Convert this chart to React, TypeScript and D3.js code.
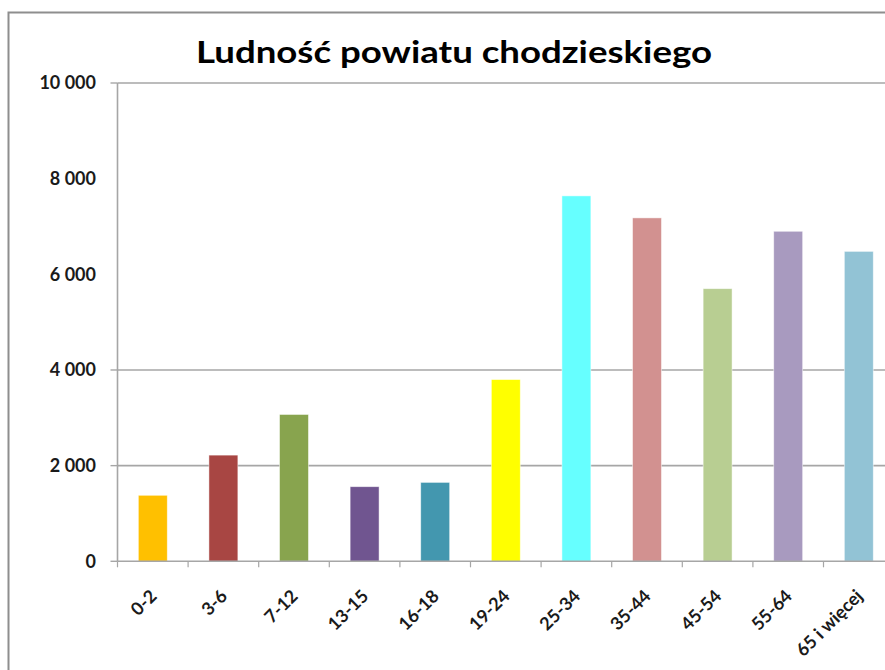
import React from "react";
import * as d3 from "d3";

const categories = ["0-2", "3-6", "7-12", "13-15", "16-18", "19-24", "25-34", "35-44", "45-54", "55-64", "65 i więcej"];
const values = [1380, 2220, 3070, 1560, 1650, 3800, 7640, 7180, 5700, 6900, 6480];
const barColors = ["#FFC000", "#A84643", "#88A44E", "#705590", "#4397AF", "#FFFF00", "#66FFFF", "#D29190", "#B8CE92", "#A89ABF", "#92C3D5"];
const yTicks = [0, 2000, 4000, 6000, 8000, 10000];
const gridTicks = [2000, 4000, 10000];
const tickMarkValues = [0, 2000, 4000, 10000];
const title = "Ludność powiatu chodzieskiego";

const W = 885;
const H = 670;
const left = 117.5;
const step = 70.6;
const top = 83;
const bottom = 561.3;

export default function App() {
  const x = d3
    .scaleBand<string>()
    .domain(categories)
    .range([left, left + step * categories.length])
    .paddingInner(0.59)
    .paddingOuter(0.295);
  const y = d3.scaleLinear().domain([0, 10000]).range([bottom, top]);
  const fmt = (v: number) => d3.format(",")(v).replace(/,/g, "\u00a0");
  const font = "Lato, 'Open Sans', sans-serif";
  const boundaries = d3.range(categories.length + 1).map((i) => left + i * step);

  return (
    <svg
      width={W}
      height={H}
      style={{ position: "absolute", left: 0, top: 0, background: "#fff" }}
    >
      <rect x={0} y={0} width={W} height={H} fill="#fff" />
      <rect x={8.5} y={12.5} width={W + 20} height={H + 20} fill="#fff" stroke="#8E8E8E" strokeWidth={2} />
      <text
        x={454}
        y={63}
        textAnchor="middle"
        fontFamily={font}
        fontWeight={700}
        fontSize={30}
        fill="#000"
        textLength={516}
        lengthAdjust="spacingAndGlyphs"
      >
        {title}
      </text>
      {gridTicks.map((t) => (
        <line key={"g" + t} x1={left} x2={W + 10} y1={y(t)} y2={y(t)} stroke="#A6A6A6" strokeWidth={1.6} />
      ))}
      {tickMarkValues.map((t) => (
        <line key={"tm" + t} x1={left - 7} x2={left} y1={y(t)} y2={y(t)} stroke="#A6A6A6" strokeWidth={1.4} />
      ))}
      <line x1={left} x2={left} y1={top} y2={bottom} stroke="#A6A6A6" strokeWidth={1.6} />
      {yTicks.map((t) => (
        <text
          key={"yl" + t}
          x={96}
          y={y(t)}
          dy="0.36em"
          textAnchor="end"
          fontFamily={font}
          fontWeight={700}
          fontSize={18}
          fill="#1a1a1a"
        >
          {fmt(t)}
        </text>
      ))}
      {categories.map((c, i) => (
        <rect
          key={"b" + c}
          x={x(c)}
          y={y(values[i])}
          width={x.bandwidth()}
          height={bottom - y(values[i])}
          fill={barColors[i]}
          stroke="#ffffff"
          strokeOpacity={0.6}
          strokeWidth={0.8}
        />
      ))}
      <line x1={left} x2={W + 10} y1={bottom} y2={bottom} stroke="#A6A6A6" strokeWidth={1.6} />
      {boundaries.map((bx, i) => (
        <line key={"xt" + i} x1={bx} x2={bx} y1={bottom} y2={bottom + 6} stroke="#A6A6A6" strokeWidth={1.2} />
      ))}
      {categories.map((c) => {
        const cx = (x(c) as number) + x.bandwidth() / 2 + 5;
        const cy = bottom + 36;
        return (
          <text
            key={"xl" + c}
            transform={`translate(${cx},${cy}) rotate(-45)`}
            textAnchor="end"
            fontFamily={font}
            fontWeight={700}
            fontSize={18}
            fill="#1a1a1a"
          >
            {c}
          </text>
        );
      })}
    </svg>
  );
}
